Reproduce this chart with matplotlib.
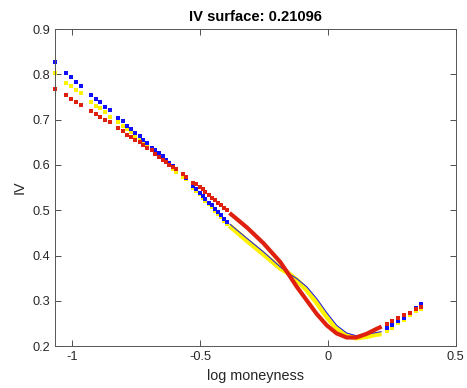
import matplotlib.pyplot as plt

# sparse strikes on the left wing
x_left = [-1.069, -1.026, -1.005, -0.986, -0.966, -0.927, -0.909, -0.890, -0.871, -0.854,
          -0.820, -0.802, -0.785, -0.769, -0.753, -0.736, -0.722, -0.706, -0.690, -0.676,
          -0.662, -0.646, -0.633, -0.620, -0.607, -0.593, -0.567, -0.554, -0.528, -0.515,
          -0.502, -0.490, -0.479, -0.465, -0.454, -0.442, -0.430, -0.418, -0.406, -0.394]
blue_left = [0.828, 0.803, 0.794, 0.784, 0.774, 0.755, 0.745, 0.738, 0.728, 0.721,
             0.704, 0.696, 0.687, 0.679, 0.671, 0.664, 0.655, 0.648, 0.638, 0.633,
             0.627, 0.619, 0.612, 0.605, 0.597, 0.590, 0.579, 0.572, 0.554, 0.547,
             0.539, 0.532, 0.525, 0.517, 0.511, 0.503, 0.496, 0.489, 0.481, 0.474]
yellow_left = [0.803, 0.781, 0.774, 0.765, 0.758, 0.740, 0.730, 0.726, 0.716, 0.707,
               0.695, 0.687, 0.680, 0.672, 0.665, 0.657, 0.651, 0.643, 0.634, 0.628,
               0.622, 0.615, 0.607, 0.599, 0.592, 0.585, 0.574, 0.568, 0.550, 0.543,
               0.535, 0.528, 0.521, 0.513, 0.507, 0.499, 0.492, 0.485, 0.477, 0.470]
red_left = [0.767, 0.754, 0.746, 0.739, 0.732, 0.720, 0.713, 0.706, 0.700, 0.694,
            0.681, 0.674, 0.667, 0.662, 0.656, 0.650, 0.644, 0.638, 0.633, 0.625,
            0.617, 0.612, 0.607, 0.601, 0.596, 0.590, 0.580, 0.574, 0.561, 0.557,
            0.551, 0.546, 0.540, 0.534, 0.528, 0.523, 0.517, 0.512, 0.506, 0.500]

# dense strikes near the money
x_mid = [-0.385, -0.317, -0.252, -0.187, -0.158, -0.122, -0.083, -0.044, -0.005, 0.034,
         0.073, 0.110, 0.151, 0.190, 0.210]
blue_mid = [0.470, 0.438, 0.408, 0.375, 0.362, 0.349, 0.331, 0.305, 0.274, 0.246,
            0.229, 0.223, 0.226, 0.230, 0.232]
yellow_mid = [0.466, 0.433, 0.403, 0.372, 0.362, 0.346, 0.324, 0.296, 0.265, 0.239,
              0.224, 0.218, 0.221, 0.226, 0.227]
red_mid = [0.494, 0.462, 0.427, 0.386, 0.362, 0.331, 0.301, 0.271, 0.246, 0.228,
           0.219, 0.219, 0.227, 0.238, 0.243]

# sparse strikes on the right wing
x_right = [0.229, 0.251, 0.275, 0.297, 0.320, 0.343, 0.363]
blue_right = [0.239, 0.246, 0.255, 0.263, 0.274, 0.284, 0.294]
yellow_right = [0.234, 0.241, 0.250, 0.257, 0.268, 0.278, 0.283]
red_right = [0.249, 0.255, 0.262, 0.269, 0.274, 0.282, 0.287]

plt.rcParams['font.family'] = ['Liberation Sans', 'DejaVu Sans']

fig = plt.figure(figsize=(4.67, 3.88), dpi=100)
ax = fig.add_axes([0.117, 0.108, 0.859, 0.817])

series = [
    ('#fff200', yellow_left, yellow_mid, yellow_right, 3.6),
    ('#1010ff', blue_left, blue_mid, blue_right, 0.7),
    ('#e0200f', red_left, red_mid, red_right, 3.0),
]
for color, yl, ym, yr, lw in series:
    ax.plot(x_left, yl, 's', color=color, markersize=2.5, markeredgewidth=0, clip_on=False)
    ax.plot(x_mid, ym, '-', color=color, linewidth=lw, solid_capstyle='butt')
    ax.plot(x_right, yr, 's', color=color, markersize=2.5, markeredgewidth=0)

ax.set_xlim(-1.069, 0.5)
ax.set_ylim(0.2, 0.9)
ax.set_xticks([-1, -0.5, 0, 0.5])
ax.set_xticklabels(['-1', '-0.5', '0', '0.5'])
ax.set_yticks([0.2, 0.3, 0.4, 0.5, 0.6, 0.7, 0.8, 0.9])
ax.tick_params(direction='in', top=True, right=True, length=4, width=0.6,
               color='#333333', labelcolor='#262626', labelsize=9.2)
for sp in ax.spines.values():
    sp.set_color('#555555')
    sp.set_linewidth(0.7)

ax.set_xlabel('log moneyness', fontsize=10.4, color='#262626')
ax.set_ylabel('IV', fontsize=10.4, color='#262626')
ax.set_title('IV surface: 0.21096', fontsize=10.6, fontweight='bold', color='#000000')

fig.savefig('out.png', dpi=100)
